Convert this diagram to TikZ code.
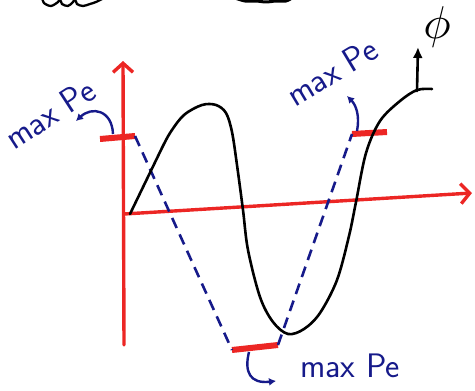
\documentclass[tikz,border=0pt]{standalone}
\usepackage{fontspec}
\usepackage{tikz}
\usetikzlibrary{arrows.meta}

\definecolor{penred}{RGB}{236,38,36}
\definecolor{penblue}{RGB}{22,26,138}

\begin{document}
\begin{tikzpicture}[
    x=1pt, y=-1pt,
    axis/.style={penred, line width=3.4pt, line cap=round,
                 -{Straight Barb[length=9pt,width=20pt,line width=3.4pt]}},
    bar/.style={penred, line width=6pt},
    guide/.style={penblue, line width=2.6pt, dash pattern=on 11pt off 7pt},
    hint/.style={penblue, line width=2.4pt, -{Latex[length=7pt,width=8pt]}},
    ink/.style={black, line width=2.6pt, line cap=round, line join=round},
    lbl/.style={penblue, font=\fontsize{34}{34}\selectfont\sffamily, inner sep=0pt},
  ]

  % page frame, same size as the scan
  \useasboundingbox (0,0) rectangle (475,391);
  \clip (0,0) rectangle (475,391);

  % cut-off handwriting at the top edge
  \draw[ink, line width=2.3pt] plot[smooth] coordinates {(42,-3) (44,3) (51,6) (58,2) (60,-1)
        (62,4) (68,6) (73,2) (75,-1) (77,4) (83,6) (90,4) (96,2) (102,-1)};
  \draw[ink, line width=3pt] plot[smooth] coordinates {(235,-2) (245,1) (256,1) (266,2)
        (276,1) (286,1) (292,-2)};

  % axes
  \coordinate (origin) at (124,214);
  \draw[axis] (124,345) -- (123,61);
  \draw[axis] (origin) -- (472,193);

  % the three max Pe marks
  \coordinate (lbarW) at (100,139);  \coordinate (lbarE) at (135,136);
  \coordinate (bbarW) at (232,350);  \coordinate (bbarE) at (278,345);
  \coordinate (rbarW) at (352,134);  \coordinate (rbarE) at (387,132);
  \draw[bar] (lbarW) -- (lbarE);
  \draw[bar] (bbarW) -- (bbarE);
  \draw[bar] (rbarW) -- (rbarE);

  % dashed envelope between the marks
  \draw[guide] (lbarE) -- (bbarW);
  \draw[guide] (bbarE) -- (rbarW);

  % phi curve
  \draw[ink] (130,214) -- (160,152) -- plot[smooth, tension=0.55] coordinates {(160,152)
        (170,133) (184,115) (202,105) (216,105) (226,113) (232,132) (237,165) (243,210)
        (248,250) (260,297) (273,322) (288,334) (304,329) (320,313) (337,280) (349,236)
        (356,202) (366,153) (380,121) (400,101) (417,90) (432,89)};
  \coordinate (phiend) at (417,91);
  \node[inner sep=0pt] (philbl) at (437,27) {\scalebox{4.6}{$\phi$}};
  \draw[ink, -{Latex[length=11pt,width=10pt]}] (phiend) -- (418,47);

  % labels
  \node[lbl, rotate=33] (lmax) at (50,114) {max Pe};
  \node[lbl, rotate=31] (rmax) at (332,72) {max Pe};
  \node[lbl] (bmax) at (350,366) {max Pe};

  \draw[hint] (113,134) .. controls (112,110) and (92,106) .. (76,121);
  \draw[hint] (357,131) .. controls (360,116) and (356,105) .. (347,96);
  \draw[hint] (249,352) .. controls (244,372) and (250,384) .. (276,381);

\end{tikzpicture}
\end{document}
